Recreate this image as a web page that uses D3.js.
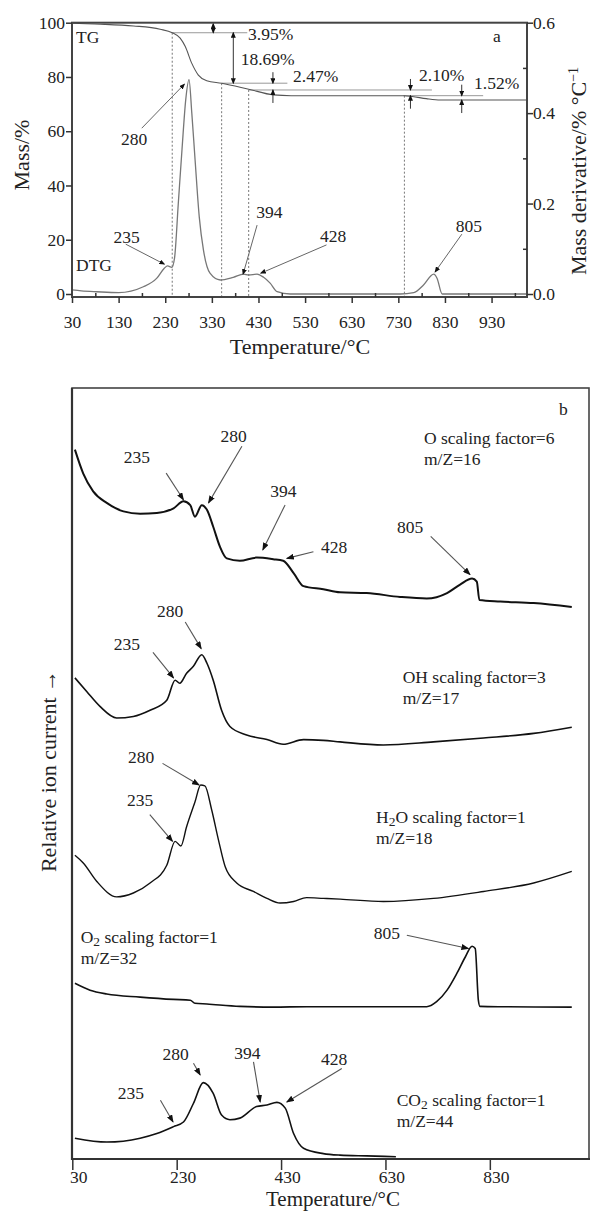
<!DOCTYPE html>
<html>
<head>
<meta charset="utf-8">
<script src="https://cdn.jsdelivr.net/npm/d3@7"></script>
<style>
  body { margin: 0; background: #fff; }
  svg text { font-family: "Liberation Serif", "Times New Roman", serif; fill: #222; }
</style>
</head>
<body>
<script>
// ---------- panel a : TG / DTG ----------
const tempTicksTop = [30, 130, 230, 330, 430, 530, 630, 730, 830, 930];
const massTicks = [0, 20, 40, 60, 80, 100];
const derivTicks = [0, 0.2, 0.4, 0.6];

const tgTemp = [30, 60, 100, 162, 219, 245, 262, 273, 287, 301, 319, 351, 409, 462, 500, 743, 760, 790, 820, 1006];
const tgMass = [99.8, 99.6, 99.4, 98.8, 97.6, 96.3, 94.3, 91.2, 85.0, 80.7, 78.6, 77.7, 75.5, 73.4, 73.1, 73.1, 72.8, 72.0, 71.5, 71.5];

const dtgTemp = [30, 50, 83, 130, 183, 212, 228, 235, 244, 250, 258, 266, 274, 281, 287, 294, 303, 312, 326, 348, 376, 398, 409, 427, 441, 455, 470, 498, 734, 763, 784, 806, 813, 824, 1006];
const dtgValue = [0.009, 0.007, 0.005, 0.003, 0.016, 0.035, 0.057, 0.062, 0.059, 0.08, 0.2, 0.32, 0.43, 0.474, 0.40, 0.297, 0.17, 0.097, 0.046, 0.031, 0.037, 0.044, 0.042, 0.044, 0.037, 0.024, 0.005, 0.0, 0.0, 0.003, 0.02, 0.044, 0.035, 0.0, 0.0];

// mass-loss steps
const stepLevels = [100, 96.3, 77.7, 75.2, 73.1, 71.5];
const stepLabels = ["3.95%", "18.69%", "2.47%", "2.10%", "1.52%"];
const dropTemps = [245, 351, 409, 743];

const peaksTop = ["235", "280", "394", "428", "805"];
const peaksTopTemp = [228, 271, 397, 435, 809];
const peaksTopValue = [0.066, 0.464, 0.044, 0.046, 0.049];

// ---------- panel b : MS ion currents ----------
const tempTicksBottom = [30, 230, 430, 630, 830];

const oTemp = [35, 51, 70, 96, 128, 160, 192, 224, 243, 256, 265, 278, 288, 300, 313, 326, 351, 383, 415, 434, 454, 473, 511, 543, 594, 658, 709, 748, 773, 796, 805, 810, 850, 914, 987];
const oCurrent = [92.0, 88.9, 86.6, 85.1, 84.0, 83.7, 83.8, 84.4, 85.3, 84.8, 83.3, 84.8, 84.2, 82.0, 79.4, 77.9, 77.6, 78.0, 77.8, 77.6, 76.0, 74.3, 73.9, 73.5, 73.4, 72.9, 72.7, 73.4, 74.5, 75.3, 74.9, 72.5, 72.3, 72.1, 71.6];

const ohTemp = [35, 58, 83, 115, 147, 179, 211, 227, 236, 249, 262, 278, 288, 300, 316, 332, 364, 403, 434, 473, 511, 543, 626, 722, 818, 914, 987];
const ohCurrent = [62.4, 60.6, 58.7, 57.2, 57.4, 58.2, 59.5, 62.1, 61.7, 63.0, 63.9, 65.4, 64.3, 62.1, 58.2, 56.1, 55.0, 54.4, 53.8, 54.4, 54.3, 54.1, 53.7, 54.1, 54.6, 55.2, 56.0];

const h2oTemp = [35, 51, 77, 115, 147, 179, 211, 227, 238, 249, 265, 276, 284, 297, 310, 323, 345, 377, 403, 428, 454, 479, 511, 543, 626, 722, 818, 914, 987];
const h2oCurrent = [39.4, 38.4, 36.0, 34.0, 34.5, 35.8, 38.1, 41.2, 40.6, 43.1, 46.3, 48.5, 48.4, 45.3, 41.4, 37.9, 35.8, 34.7, 33.8, 33.2, 33.4, 33.9, 33.8, 33.7, 33.4, 33.8, 34.7, 35.8, 37.3];

const o2Temp = [35, 64, 96, 160, 224, 256, 265, 288, 351, 415, 479, 594, 709, 728, 748, 767, 783, 796, 802, 808, 811, 850, 987];
const o2Current = [22.8, 21.9, 21.4, 21.0, 20.7, 20.6, 20.2, 20.1, 19.8, 19.7, 19.75, 19.75, 19.75, 20.4, 21.9, 24.1, 26.2, 27.6, 27.3, 20.6, 19.8, 19.75, 19.7];

const co2Temp = [35, 96, 160, 192, 224, 243, 262, 281, 300, 316, 332, 351, 383, 403, 422, 438, 454, 473, 511, 543, 594, 650];
const co2Current = [2.7, 2.2, 2.7, 3.3, 4.2, 4.8, 7.2, 9.9, 8.5, 5.7, 5.1, 5.3, 6.8, 7.0, 7.35, 6.6, 3.3, 1.4, 0.7, 0.5, 0.4, 0.3];

const zip = (xs, ys) => xs.map((x, i) => [x, ys[i]]);

const svg = d3.select("body").append("svg")
    .attr("width", 592)
    .attr("height", 1211);

const defs = svg.append("defs");
defs.append("marker")
    .attr("id", "head")
    .attr("markerUnits", "userSpaceOnUse")
    .attr("markerWidth", 8)
    .attr("markerHeight", 6)
    .attr("refX", 7)
    .attr("refY", 3)
    .attr("orient", "auto-start-reverse")
    .append("path")
    .attr("d", "M0,0 L8,3 L0,6 Z")
    .attr("fill", "#111");
defs.append("marker")
    .attr("id", "smallHead")
    .attr("markerUnits", "userSpaceOnUse")
    .attr("markerWidth", 6)
    .attr("markerHeight", 5)
    .attr("refX", 5)
    .attr("refY", 2.5)
    .attr("orient", "auto-start-reverse")
    .append("path")
    .attr("d", "M0,0 L6,2.5 L0,5 Z")
    .attr("fill", "#111");

function styleAxis(g) {
    g.select(".domain").remove();
    g.selectAll(".tick line").attr("stroke", "#333").attr("stroke-width", 1.5);
    g.selectAll(".tick text")
        .attr("fill", "#222")
        .style("font-family", "'Liberation Serif', serif")
        .style("font-size", "17.5px");
}

// ================= panel a =================
const xTop = d3.scaleLinear().domain([30, 1006]).range([72, 527]);
const yMass = d3.scaleLinear().domain([0, 100]).range([294, 22.7]);
const yDeriv = d3.scaleLinear().domain([0, 0.6]).range([294, 22.7]);
const topBottom = 297;

const panelA = svg.append("g");

// dotted drop lines
panelA.selectAll(".drop")
    .data(dropTemps)
    .join("line")
    .attr("x1", d => xTop(d)).attr("x2", d => xTop(d))
    .attr("y1", (d, i) => yMass(stepLevels[i + 1]))
    .attr("y2", topBottom)
    .attr("stroke", "#777")
    .attr("stroke-width", 1)
    .attr("stroke-dasharray", "2,2");

// reference lines for the steps
const refLines = [[245, 406], [351, 492], [409, 802], [741, 912]];
panelA.selectAll(".ref")
    .data(refLines)
    .join("line")
    .attr("x1", d => xTop(d[0])).attr("x2", d => xTop(d[1]))
    .attr("y1", (d, i) => yMass(stepLevels[i + 1]))
    .attr("y2", (d, i) => yMass(stepLevels[i + 1]))
    .attr("stroke", "#999")
    .attr("stroke-width", 1);

// TG and DTG curves
panelA.append("path")
    .datum(zip(tgTemp, tgMass))
    .attr("fill", "none")
    .attr("stroke", "#555")
    .attr("stroke-width", 1.1)
    .attr("d", d3.line().x(d => xTop(d[0])).y(d => yMass(d[1])).curve(d3.curveMonotoneX));

panelA.append("path")
    .datum(zip(dtgTemp, dtgValue))
    .attr("fill", "none")
    .attr("stroke", "#777")
    .attr("stroke-width", 1.3)
    .attr("d", d3.line().x(d => xTop(d[0])).y(d => yDeriv(d[1])).curve(d3.curveMonotoneX));

// step arrows
function vArrow(g, x, y1, y2, both) {
    g.append("line")
        .attr("x1", x).attr("x2", x)
        .attr("y1", y1).attr("y2", y2)
        .attr("stroke", "#333")
        .attr("stroke-width", 1)
        .attr("marker-end", "url(#smallHead)")
        .attr("marker-start", both ? "url(#smallHead)" : null);
}
vArrow(panelA, xTop(333), yMass(stepLevels[0]) + 1, yMass(stepLevels[1]), true);
vArrow(panelA, xTop(376), yMass(stepLevels[1]), yMass(stepLevels[2]), true);
// outside pairs
const pairTemps = [461, 756, 866];
pairTemps.forEach((t, i) => {
    const hi = yMass(stepLevels[i + 2]);
    const lo = yMass(stepLevels[i + 3]);
    vArrow(panelA, xTop(t), hi - 11, hi, false);
    vArrow(panelA, xTop(t), lo + 13, lo, false);
});

const stepLabelPos = [[248, 40], [240.7, 65], [293, 82], [419, 81], [474, 89]];
panelA.selectAll(".stepLabel")
    .data(stepLabels)
    .join("text")
    .attr("x", (d, i) => stepLabelPos[i][0])
    .attr("y", (d, i) => stepLabelPos[i][1])
    .style("font-size", "17.5px")
    .text(d => d);

// peak arrows
const topArrowOffsets = [[-38.6, -20], [-42.6, 44], [14, -49], [65.7, -28.3], [26.7, -37.7]];
const topLabelOffsets = [[0.8, -1.3], [-7.7, 16.7], [12.4, -7], [6.6, -3.3], [7.1, -1.7]];
peaksTop.forEach((p, i) => {
    const tx = xTop(peaksTopTemp[i]), ty = yDeriv(peaksTopValue[i]);
    const sx = tx + topArrowOffsets[i][0], sy = ty + topArrowOffsets[i][1];
    panelA.append("line")
        .attr("x1", sx).attr("y1", sy).attr("x2", tx).attr("y2", ty)
        .attr("stroke", "#666").attr("stroke-width", 1)
        .attr("marker-end", "url(#smallHead)");
    panelA.append("text")
        .attr("x", sx + topLabelOffsets[i][0])
        .attr("y", sy + topLabelOffsets[i][1])
        .attr("text-anchor", "middle")
        .style("font-size", "17.5px")
        .text(p);
});

panelA.append("text").attr("x", 76).attr("y", 43).style("font-size", "17.5px").text("TG");
panelA.append("text").attr("x", 76).attr("y", 271).style("font-size", "17.5px").text("DTG");
panelA.append("text").attr("x", 493).attr("y", 42).style("font-size", "17.5px").text("a");

// frame
panelA.append("rect")
    .attr("x", 72).attr("y", 22.7)
    .attr("width", 527 - 72).attr("height", topBottom - 22.7)
    .attr("fill", "none")
    .attr("stroke", "#444")
    .attr("stroke-width", 2);

// axes
panelA.append("g")
    .attr("transform", `translate(0,${topBottom})`)
    .call(d3.axisBottom(xTop).tickValues(tempTicksTop).tickSize(6).tickPadding(13))
    .call(styleAxis);
panelA.append("g")
    .attr("transform", `translate(0,${topBottom})`)
    .call(d3.axisBottom(xTop).tickValues(tempTicksTop.map(t => t + 50).filter(t => t < 1006)).tickSize(-4).tickFormat(""))
    .call(styleAxis);
panelA.append("g")
    .attr("transform", "translate(72,0)")
    .call(d3.axisLeft(yMass).tickValues(massTicks).tickSize(6).tickPadding(1))
    .call(styleAxis);
panelA.append("g")
    .attr("transform", "translate(527,0)")
    .call(d3.axisRight(yDeriv).tickValues(derivTicks).tickSize(6).tickPadding(0).tickFormat(d3.format(".1f")))
    .call(styleAxis);
panelA.append("g")
    .attr("transform", "translate(527,0)")
    .call(d3.axisRight(yDeriv).tickValues([0.1, 0.3, 0.5]).tickSize(-4).tickFormat(""))
    .call(styleAxis);

// titles
panelA.append("text")
    .attr("x", 300).attr("y", 354)
    .attr("text-anchor", "middle")
    .style("font-size", "22px")
    .text("Temperature/°C");
panelA.append("text")
    .attr("transform", "translate(29,155) rotate(-90)")
    .attr("text-anchor", "middle")
    .style("font-size", "22px")
    .text("Mass/%");
const derivTitle = panelA.append("text")
    .attr("transform", "translate(586,171) rotate(-90)")
    .attr("text-anchor", "middle")
    .style("font-size", "22px");
derivTitle.append("tspan").text("Mass derivative/% °C");
derivTitle.append("tspan").attr("dy", -8).style("font-size", "14px").text("−1");

// ================= panel b =================
const xBot = d3.scaleLinear().domain([30, 1020]).range([72.3, 589]);
const yBot = d3.scaleLinear().domain([0, 100]).range([1159, 388]);

const panelB = svg.append("g");

panelB.append("rect")
    .attr("x", 72).attr("y", 388)
    .attr("width", 589 - 72).attr("height", 1159 - 388)
    .attr("fill", "none")
    .attr("stroke", "#444")
    .attr("stroke-width", 1.6);
panelB.append("line").attr("x1", 72).attr("x2", 72).attr("y1", 388).attr("y2", 1160)
    .attr("stroke", "#333").attr("stroke-width", 2.2);
panelB.append("line").attr("x1", 71).attr("x2", 590).attr("y1", 1159).attr("y2", 1159)
    .attr("stroke", "#333").attr("stroke-width", 2.2);

const series = [
    { temp: oTemp, cur: oCurrent, width: 2 },
    { temp: ohTemp, cur: ohCurrent, width: 1.6 },
    { temp: h2oTemp, cur: h2oCurrent, width: 1.4 },
    { temp: o2Temp, cur: o2Current, width: 1.6 },
    { temp: co2Temp, cur: co2Current, width: 1.6 }
];
const lineB = d3.line().x(d => xBot(d[0])).y(d => yBot(d[1])).curve(d3.curveMonotoneX);
panelB.selectAll(".ms")
    .data(series)
    .join("path")
    .attr("fill", "none")
    .attr("stroke", "#111")
    .attr("stroke-width", d => d.width)
    .attr("d", d => lineB(zip(d.temp, d.cur)));

// peak arrows: tip on curve (temp, current), tail offset, label offset
const peaksBottom = [
    { text: "235", t: 243, u: 85.5, a: [-17.3, -26.7], l: [-29.3, -10] },
    { text: "280", t: 291, u: 85.1, a: [33.4, -56.7], l: [-8.4, -4.3] },
    { text: "394", t: 395, u: 79.0, a: [22.3, -45], l: [-1.7, -7.7] },
    { text: "428", t: 441, u: 77.9, a: [26.6, -6.6], l: [20.7, 1.6] },
    { text: "805", t: 792, u: 75.8, a: [-39.3, -38.3], l: [-20.7, -3.4] },
    { text: "280", t: 277, u: 66.2, a: [-16, -26.6], l: [-15, -5] },
    { text: "235", t: 224, u: 62.4, a: [-20.6, -25.6], l: [-26, -2.7] },
    { text: "280", t: 273, u: 48.5, a: [-36.6, -21.7], l: [-21.5, 0] },
    { text: "235", t: 222, u: 41.2, a: [-22.7, -26.7], l: [-9.7, -8.3] },
    { text: "805", t: 789, u: 27.3, a: [-61.6, -13.3], l: [-20, 3.3] },
    { text: "280", t: 275, u: 10.9, a: [-6.7, -11.7], l: [-17.8, -3.3] },
    { text: "235", t: 223, u: 4.8, a: [-12.6, -21.7], l: [-29.5, -1.7] },
    { text: "394", t: 390, u: 7.4, a: [-6.7, -40], l: [-6.1, -3.4] },
    { text: "428", t: 441, u: 7.4, a: [55, -33.4], l: [-7.7, -3.3] }
];
peaksBottom.forEach(p => {
    const tx = xBot(p.t), ty = yBot(p.u);
    const sx = tx + p.a[0], sy = ty + p.a[1];
    panelB.append("line")
        .attr("x1", sx).attr("y1", sy).attr("x2", tx).attr("y2", ty)
        .attr("stroke", "#555").attr("stroke-width", 1.1)
        .attr("marker-end", "url(#head)");
    panelB.append("text")
        .attr("x", sx + p.l[0]).attr("y", sy + p.l[1])
        .attr("text-anchor", "middle")
        .style("font-size", "17.5px")
        .text(p.text);
});

// series captions
const captions = [
    { x: 424, y: 445, parts: [["O scaling factor=6", 0]], mz: "m/Z=16" },
    { x: 402.7, y: 684, parts: [["OH scaling factor=3", 0]], mz: "m/Z=17" },
    { x: 376, y: 824, parts: [["H", 0], ["2", 1], ["O scaling factor=1", 0]], mz: "m/Z=18" },
    { x: 80.7, y: 944, parts: [["O", 0], ["2", 1], [" scaling factor=1", 0]], mz: "m/Z=32" },
    { x: 396.7, y: 1107, parts: [["CO", 0], ["2", 1], [" scaling factor=1", 0]], mz: "m/Z=44" }
];
captions.forEach(c => {
    const t = panelB.append("text")
        .attr("x", c.x).attr("y", c.y - 1.5)
        .style("font-size", "17.5px");
    let shifted = false;
    c.parts.forEach(p => {
        const dy = p[1] ? 3 : (shifted ? -3 : 0);
        shifted = !!p[1];
        t.append("tspan")
            .attr("dy", dy)
            .style("font-size", p[1] ? "13.5px" : null)
            .text(p[0]);
    });
    panelB.append("text")
        .attr("x", c.x).attr("y", c.y + 19.5)
        .style("font-size", "17.5px")
        .text(c.mz);
});

panelB.append("text").attr("x", 559).attr("y", 415).style("font-size", "17.5px").text("b");

panelB.append("g")
    .attr("transform", "translate(0,1159)")
    .call(d3.axisBottom(xBot).tickValues(tempTicksBottom).tickSize(11).tickPadding(1))
    .call(styleAxis)
    .call(g => g.selectAll(".tick text").attr("dx", 6));

panelB.append("text")
    .attr("x", 333).attr("y", 1206)
    .attr("text-anchor", "middle")
    .style("font-size", "21px")
    .text("Temperature/°C");
panelB.append("text")
    .attr("transform", "translate(56,771) rotate(-90)")
    .attr("text-anchor", "middle")
    .style("font-size", "22px")
    .text("Relative ion current →");
</script>
</body>
</html>
